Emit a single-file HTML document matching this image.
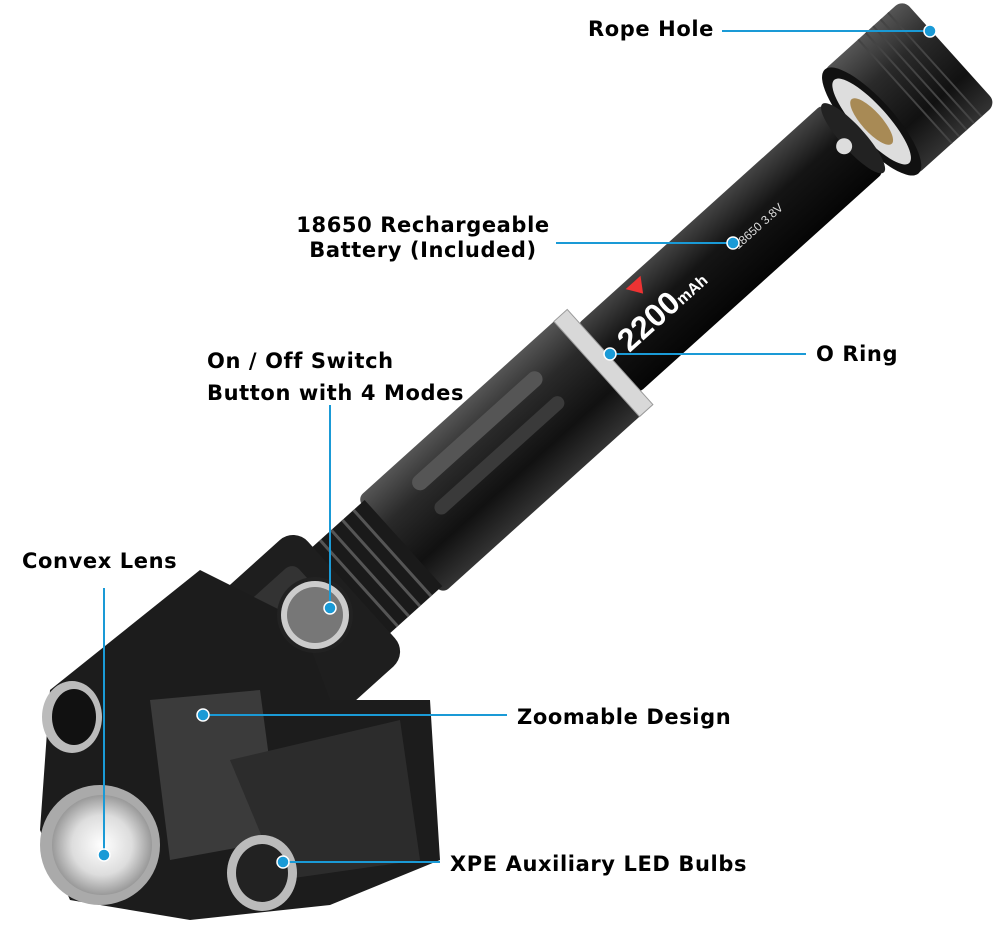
<!DOCTYPE html>
<html><head><style>
html,body{margin:0;padding:0;background:#fff;}
body{width:1000px;height:943px;position:relative;overflow:hidden;font-family:"DejaVu Sans","Liberation Sans",sans-serif;}
.l{position:absolute;font-weight:bold;font-size:21px;letter-spacing:0.6px;color:#000;white-space:nowrap;line-height:25px;}
svg{position:absolute;left:0;top:0;}
</style></head><body>
<svg width="1000" height="943" viewBox="0 0 1000 943">
<defs>
<linearGradient id="bd" x1="0" y1="0" x2="0" y2="1">
<stop offset="0" stop-color="#555"/><stop offset="0.3" stop-color="#2a2a2a"/><stop offset="0.7" stop-color="#111"/><stop offset="1" stop-color="#333"/>
</linearGradient>
<linearGradient id="bt" x1="0" y1="0" x2="0" y2="1">
<stop offset="0" stop-color="#444"/><stop offset="0.4" stop-color="#151515"/><stop offset="1" stop-color="#050505"/>
</linearGradient>
<radialGradient id="ln"><stop offset="0" stop-color="#fff"/><stop offset="0.6" stop-color="#ddd"/><stop offset="1" stop-color="#999"/></radialGradient>
</defs>
<g transform="translate(318,620) rotate(-42)">
<rect x="740" y="-70" width="110" height="140" rx="10" fill="url(#bd)"/>
<g stroke="#444" stroke-width="2">
<line x1="790" y1="-70" x2="790" y2="70"/><line x1="800" y1="-70" x2="800" y2="70"/><line x1="810" y1="-70" x2="810" y2="70"/><line x1="820" y1="-70" x2="820" y2="70"/><line x1="830" y1="-70" x2="830" y2="70"/>
</g>
<ellipse cx="745" cy="0" rx="22" ry="70" fill="#111"/>
<ellipse cx="745" cy="0" rx="16" ry="56" fill="#ddd"/>
<ellipse cx="745" cy="0" rx="10" ry="30" fill="#a88a55"/>
<rect x="390" y="-46" width="330" height="92" rx="6" fill="url(#bt)"/>
<ellipse cx="720" cy="0" rx="12" ry="46" fill="#222"/>
<circle cx="708" cy="0" r="8" fill="#ddd"/>
<text x="410" y="10" font-family="Liberation Sans" font-weight="bold" font-size="32" fill="#fff">2200<tspan font-size="16">mAh</tspan></text>
<text x="560" y="6" font-family="Liberation Sans" font-size="12" fill="#ddd">18650 3.8V</text>
<path d="M450 -40 l20 0 l-10 15 z" fill="#e33"/>
<rect x="110" y="-64" width="275" height="128" rx="8" fill="url(#bd)"/>
<rect x="160" y="-42" width="170" height="16" rx="8" fill="#555"/>
<rect x="160" y="-8" width="170" height="14" rx="7" fill="#3a3a3a"/>
<rect x="375" y="-64" width="18" height="128" fill="#d8d8d8" stroke="#999"/>
<rect x="40" y="-58" width="75" height="116" fill="#1a1a1a"/>
<g stroke="#555" stroke-width="3"><line x1="55" y1="-58" x2="55" y2="58"/><line x1="70" y1="-58" x2="70" y2="58"/><line x1="85" y1="-58" x2="85" y2="58"/><line x1="100" y1="-58" x2="100" y2="58"/></g>
<rect x="-130" y="-85" width="175" height="170" rx="20" fill="#1e1e1e"/>
<rect x="-110" y="-60" width="130" height="60" rx="10" fill="#333"/>
</g>
<path d="M50 690 L200 570 L300 620 L330 700 L430 700 L440 860 L330 905 L190 920 L70 900 L40 830 Z" fill="#1c1c1c"/>
<path d="M150 700 L260 690 L280 840 L170 860 Z" fill="#3b3b3b"/>
<path d="M230 760 L400 720 L420 860 L280 880 Z" fill="#2c2c2c"/>
<circle cx="315" cy="615" r="38" fill="#222"/>
<circle cx="315" cy="615" r="34" fill="#ccc"/>
<circle cx="315" cy="615" r="28" fill="#777"/>
<ellipse cx="72" cy="717" rx="30" ry="36" fill="#bbb"/>
<ellipse cx="74" cy="717" rx="22" ry="28" fill="#111"/>
<ellipse cx="100" cy="845" rx="60" ry="60" fill="#aaa"/>
<ellipse cx="102" cy="845" rx="50" ry="50" fill="url(#ln)"/>
<ellipse cx="262" cy="873" rx="35" ry="38" fill="#bbb"/>
<ellipse cx="262" cy="873" rx="26" ry="29" fill="#222"/>
<g stroke="#1a9ad6" stroke-width="2" fill="none">
<line x1="722" y1="31" x2="930" y2="31"/>
<line x1="556" y1="243" x2="733" y2="243"/>
<line x1="610" y1="354" x2="806" y2="354"/>
<line x1="330" y1="405" x2="330" y2="608"/>
<line x1="104" y1="588" x2="104" y2="855"/>
<line x1="203" y1="715" x2="507" y2="715"/>
<line x1="283" y1="862" x2="440" y2="862"/>
</g>
<g fill="#1a9ad6" stroke="#fff" stroke-width="1.5">
<circle cx="930" cy="31" r="6"/><circle cx="733" cy="243" r="6"/><circle cx="610" cy="354" r="6"/><circle cx="330" cy="608" r="6"/><circle cx="104" cy="855" r="6"/><circle cx="203" cy="715" r="6"/><circle cx="283" cy="862" r="6"/>
</g>
</svg>
<div class="l" style="left:588px;top:17px;">Rope Hole</div>
<div class="l" style="left:276px;top:213px;text-align:center;width:294px;">18650 Rechargeable<br>Battery (Included)</div>
<div class="l" style="left:816px;top:342px;">O Ring</div>
<div class="l" style="left:207px;top:345px;line-height:32px;">On / Off Switch<br>Button with 4 Modes</div>
<div class="l" style="left:22px;top:549px;">Convex Lens</div>
<div class="l" style="left:517px;top:705px;">Zoomable Design</div>
<div class="l" style="left:450px;top:852px;">XPE Auxiliary LED Bulbs</div>
</body></html>
